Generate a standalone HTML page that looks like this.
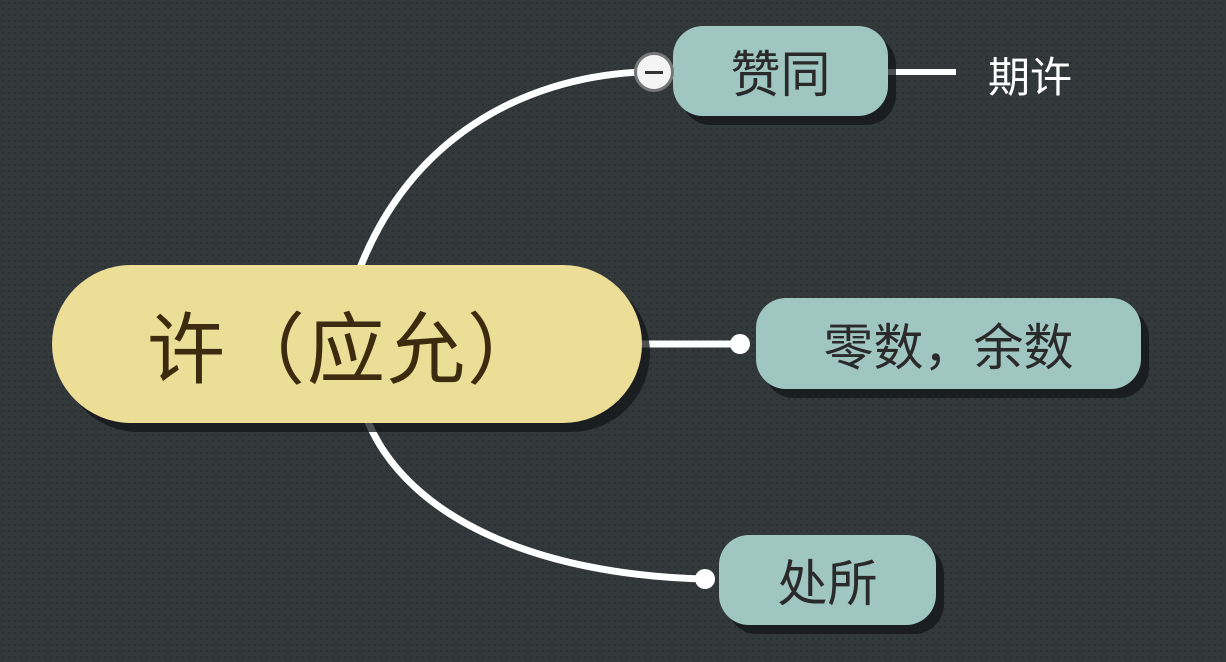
<!DOCTYPE html>
<html><head><meta charset="utf-8"><style>
body{margin:0;width:1226px;height:662px;overflow:hidden;background:#33383b;
background-image:radial-gradient(#2a2e31 1px,transparent 1.2px);background-size:6px 6px;
font-family:"Liberation Sans","Noto Sans CJK SC",sans-serif;position:relative}
.n{position:absolute;display:flex;align-items:center;justify-content:center;box-shadow:8px 9px 0 rgba(20,22,24,0.75);color:#2a2a2a}
.t{background:#a0c6c2;border-radius:30px;font-size:50px}
</style></head><body>
<svg width="1226" height="662" style="position:absolute;left:0;top:0">
<path d="M360 268 C 410 140, 520 78, 640 72" stroke="#fff" stroke-width="7" fill="none"/>
<path d="M368 422 C 410 520, 540 575, 705 579" stroke="#fff" stroke-width="7" fill="none"/>
<line x1="640" y1="344" x2="740" y2="344" stroke="#fff" stroke-width="7"/>
<line x1="888" y1="72" x2="956" y2="72" stroke="#fff" stroke-width="6"/>
<circle cx="740" cy="344" r="10" fill="#fff"/>
<circle cx="705" cy="579" r="10" fill="#fff"/>
</svg>
<div class="n" style="left:52px;top:265px;width:590px;height:158px;background:#ecdd97;border-radius:79px;font-size:78px;color:#3e2a0e;letter-spacing:2px">许（应允）</div>
<div class="n t" style="left:673px;top:26px;width:215px;height:90px">赞同</div>
<div class="n t" style="left:756px;top:298px;width:385px;height:91px">零数，余数</div>
<div class="n t" style="left:719px;top:535px;width:217px;height:90px">处所</div>
<div style="position:absolute;left:634px;top:52px;width:40px;height:40px;border-radius:50%;background:#f4f4f4;border:3px solid #777;box-sizing:border-box"><div style="position:absolute;left:8px;top:16px;width:18px;height:3px;background:#333"></div></div>
<div style="position:absolute;left:988px;top:44px;font-size:42px;color:#fff">期许</div>
</body></html>
